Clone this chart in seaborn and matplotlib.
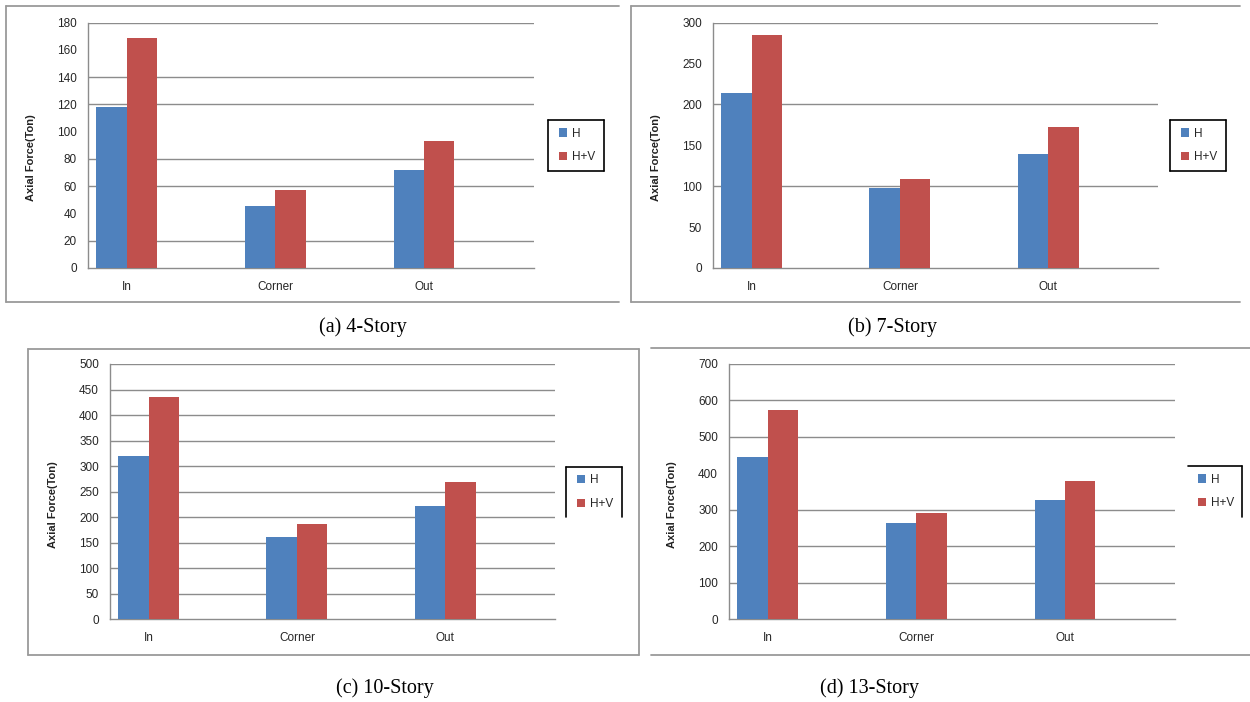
import pandas as pd
import matplotlib
matplotlib.use("Agg")
from matplotlib import pyplot as plt
from matplotlib.lines import Line2D
import seaborn as sns

# values
categories = ["In", "Corner", "Out"]
loads = ["H", "H+V"]
h_4 = [118, 45.5, 72]
hv_4 = [169, 57, 93.5]
h_7 = [214, 98, 140]
hv_7 = [285, 109, 172]
h_10 = [320, 161, 222]
hv_10 = [435, 186, 269]
h_13 = [444, 265, 328]
hv_13 = [574, 292, 380]
captions = ["(a) 4-Story", "(b) 7-Story", "(c) 10-Story", "(d) 13-Story"]
y_max = [180, 300, 500, 700]
y_step = [20, 50, 50, 100]
# gridlines that survived in the scanned figure
grid_at = [[20, 60, 80, 120, 140, 180],
           [100, 200, 300],
           [50, 100, 150, 200, 250, 300, 350, 400, 450, 500],
           [100, 200, 300, 500, 600, 700]]

W, H = 1250, 702

def fx(x):
    return x / W

def fy(y):
    return 1 - y / H

def seg(fig, x0, y0, x1, y1, color="#9a9a9a", lw=1.3):
    fig.add_artist(Line2D([fx(x0), fx(x1)], [fy(y0), fy(y1)], color=color, lw=lw,
                          transform=fig.transFigure))

sns.set_theme(style="white")
plt.rcParams["font.family"] = ["Liberation Sans", "DejaVu Sans"]

fig = plt.figure(figsize=(12.5, 7.02), dpi=100)

# axes boxes in pixels: left, top, right, bottom
rects = [(88, 22.7, 534, 268), (713, 22.7, 1158, 268),
         (110, 364, 555, 619.3), (729, 364, 1175, 619.3)]
cap_pos = [(363, 327), (892, 327), (385, 688), (869, 688)]
# legend boxes: left, top, right, bottom, which sides are drawn
leg_boxes = [(548, 120, 604, 171, "ltrb"), (1170, 120, 1226, 171, "ltrb"),
             (566, 467, 622, 517, "ltr"), (1188, 466, 1242, 517, "tr")]

series = [(h_4, hv_4), (h_7, hv_7), (h_10, hv_10), (h_13, hv_13)]
palette = {"H": "#4F81BD", "H+V": "#C0504D"}

for i, (h_vals, hv_vals) in enumerate(series):
    df = pd.DataFrame({
        "category": categories * 2,
        "load": [loads[0]] * 3 + [loads[1]] * 3,
        "value": list(h_vals) + list(hv_vals),
    })
    x0, y0, x1, y1 = rects[i]
    ax = fig.add_axes([fx(x0), fy(y1), fx(x1) - fx(x0), fy(y0) - fy(y1)])
    sns.barplot(data=df, x="category", y="value", hue="load", palette=palette,
                width=0.41, gap=0, saturation=1, linewidth=0, ax=ax, zorder=3)
    for g in grid_at[i]:
        ax.axhline(g, color="#8c8c8c", lw=1.0, zorder=1)
    ax.set_xlim(-0.26, 2.74)
    ax.set_ylim(0, y_max[i])
    ax.set_yticks(range(0, y_max[i] + 1, y_step[i]))
    ax.set_xlabel("")
    ax.set_ylabel("Axial Force(Ton)", fontsize=8, fontweight="bold", color="#222222")
    ax.yaxis.set_label_coords(-0.117, 0.45)
    for s in ["top", "right"]:
        ax.spines[s].set_visible(False)
    for s in ["left", "bottom"]:
        ax.spines[s].set_color("#8c8c8c")
        ax.spines[s].set_linewidth(1.0)
    ax.tick_params(axis="y", length=3, color="#8c8c8c", pad=5, labelsize=8.5, labelcolor="#262626")
    ax.tick_params(axis="x", length=0, pad=9, labelsize=8.5, labelcolor="#262626")

    lx0, ly0, lx1, ly1, sides = leg_boxes[i]
    leg = ax.legend(loc="center", bbox_to_anchor=(fx((lx0 + lx1) / 2 + 1), fy((ly0 + ly1) / 2)),
                    bbox_transform=fig.transFigure, frameon=False, fontsize=8.5,
                    handlelength=0.7, handleheight=0.7, handletextpad=0.4, labelspacing=1.0,
                    borderpad=0)
    for t in leg.get_texts():
        t.set_color("#262626")
    if "l" in sides:
        seg(fig, lx0, ly0, lx0, ly1, color="black", lw=1.2)
    if "t" in sides:
        seg(fig, lx0, ly0, lx1, ly0, color="black", lw=1.2)
    if "r" in sides:
        seg(fig, lx1, ly0, lx1, ly1, color="black", lw=1.2)
    if "b" in sides:
        seg(fig, lx0, ly1, lx1, ly1, color="black", lw=1.2)

    cx, cy = cap_pos[i]
    fig.text(fx(cx), fy(cy), captions[i], ha="center", va="center", fontsize=14.5,
             family=["Liberation Serif", "DejaVu Serif"], color="black")

# outer panel frames as they appear in the page scan
seg(fig, 6, 6, 619, 6); seg(fig, 6, 302, 619, 302); seg(fig, 6, 6, 6, 302)
seg(fig, 631, 6, 1240, 6); seg(fig, 631, 302, 1240, 302); seg(fig, 631, 6, 631, 302)
seg(fig, 28, 349, 639, 349); seg(fig, 28, 655, 639, 655)
seg(fig, 28, 349, 28, 655); seg(fig, 639, 349, 639, 655)
seg(fig, 651, 348, 1250, 348); seg(fig, 651, 655, 1250, 655)

fig.savefig("out.png", dpi=100)
